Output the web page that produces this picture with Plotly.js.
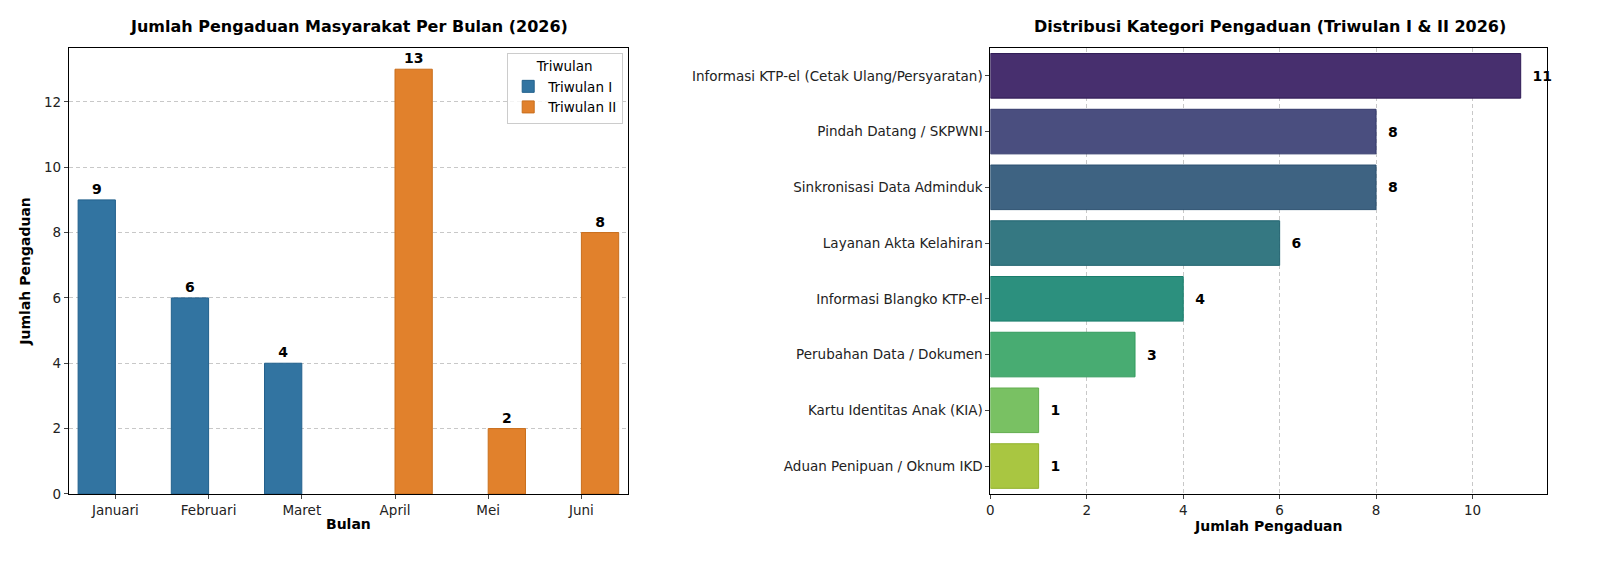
<!DOCTYPE html>
<html><head><meta charset="utf-8">
<script src="https://cdn.plot.ly/plotly-3.0.1.min.js"></script>
<style>body{margin:0;background:#fff}#chart{width:1600px;height:571px}</style>
</head><body><div id="chart"></div>
<script>
// monthly complaints
var months = ['Januari', 'Februari', 'Maret', 'April', 'Mei', 'Juni'];
var tw1 = [9, 6, 4, null, null, null];
var tw2 = [null, null, null, 13, 2, 8];

// categories
var categories = ['Informasi KTP-el (Cetak Ulang/Persyaratan)', 'Pindah Datang / SKPWNI',
  'Sinkronisasi Data Adminduk', 'Layanan Akta Kelahiran', 'Informasi Blangko KTP-el',
  'Perubahan Data / Dokumen', 'Kartu Identitas Anak (KIA)', 'Aduan Penipuan / Oknum IKD'];
var counts = [11, 8, 8, 6, 4, 3, 1, 1];
var catColors = ['#472f6e', '#4a4e7f', '#3e6382', '#357882', '#2c907e', '#48ac72', '#79c163', '#a9c641'];
var catEdges = ['#2f1a55', '#343a6c', '#2b5070', '#226470', '#197d6c', '#339a5e', '#62ad4e', '#92b22c'];

var font = 'DejaVu Sans';
var traces = [
  {x: months, y: tw1, name: 'Triwulan I', type: 'bar', marker: {color: '#3274a1', line: {color: '#22608c', width: 1}},
   texttemplate: '<b>%{y}</b>', textposition: 'outside', cliponaxis: false, textfont: {size: 14, color: '#000'}, xaxis: 'x', yaxis: 'y'},
  {x: months, y: tw2, name: 'Triwulan II', type: 'bar', marker: {color: '#e1812c', line: {color: '#c96e1c', width: 1}},
   texttemplate: '<b>%{y}</b>', textposition: 'outside', cliponaxis: false, textfont: {size: 14, color: '#000'}, xaxis: 'x', yaxis: 'y'},
  {x: counts, y: categories, type: 'bar', orientation: 'h', showlegend: false,
   marker: {color: catColors, line: {color: catEdges, width: 1}},
   texttemplate: '  <b>%{x}</b>', textposition: 'outside', cliponaxis: false, textfont: {size: 14, color: '#000'}, xaxis: 'x2', yaxis: 'y2'}
];

var axisBase = {showline: true, mirror: true, linecolor: '#000', linewidth: 1, ticks: 'outside', ticklen: 4,
  tickfont: {size: 13.5, color: '#222'}, zeroline: false};
var layout = {
  width: 1600, height: 571, margin: {l: 0, r: 0, t: 0, b: 0},
  paper_bgcolor: '#fff', plot_bgcolor: '#fff', font: {family: font, color: '#000'},
  barmode: 'group', bargap: 0.2, bargroupgap: 0,
  xaxis: Object.assign({}, axisBase, {domain: [0.043, 0.3925], anchor: 'y', type: 'category', range: [-0.5, 5.5], showgrid: false,
    title: {text: '<b>Bulan</b>', font: {size: 14}, standoff: 2}}),
  yaxis: Object.assign({}, axisBase, {domain: [0.135, 0.916], anchor: 'x', range: [0, 13.65], dtick: 2,
    showgrid: true, gridcolor: '#c8c8c8', griddash: '4px,3px',
    title: {text: '<b>Jumlah Pengaduan</b>', font: {size: 14}, standoff: 10}}),
  xaxis2: Object.assign({}, axisBase, {domain: [0.619, 0.967], anchor: 'y2', range: [0, 11.55], dtick: 2,
    showgrid: true, gridcolor: '#c8c8c8', griddash: '4px,3px',
    title: {text: '<b>Jumlah Pengaduan</b>', font: {size: 14}, standoff: 2}}),
  yaxis2: Object.assign({}, axisBase, {domain: [0.135, 0.916], anchor: 'x2', type: 'category', autorange: 'reversed', showgrid: false}),
  legend: {x: 0.3895, y: 0.908, xanchor: 'right', yanchor: 'top', bordercolor: '#ccc', borderwidth: 1, bgcolor: 'rgba(255,255,255,0.8)',
    title: {text: 'Triwulan', side: 'top center', font: {size: 13.5}}, font: {size: 13.5}},
  annotations: [
    {text: '<b>Jumlah Pengaduan Masyarakat Per Bulan (2026)</b>', xref: 'paper', yref: 'paper', x: 0.218, y: 0.953,
     xanchor: 'center', yanchor: 'middle', showarrow: false, font: {size: 16}},
    {text: '<b>Distribusi Kategori Pengaduan (Triwulan I & II 2026)</b>', xref: 'paper', yref: 'paper', x: 0.7935, y: 0.953,
     xanchor: 'center', yanchor: 'middle', showarrow: false, font: {size: 16}}
  ]
};
Plotly.newPlot('chart', traces, layout, {displayModeBar: false});
</script></body></html>
